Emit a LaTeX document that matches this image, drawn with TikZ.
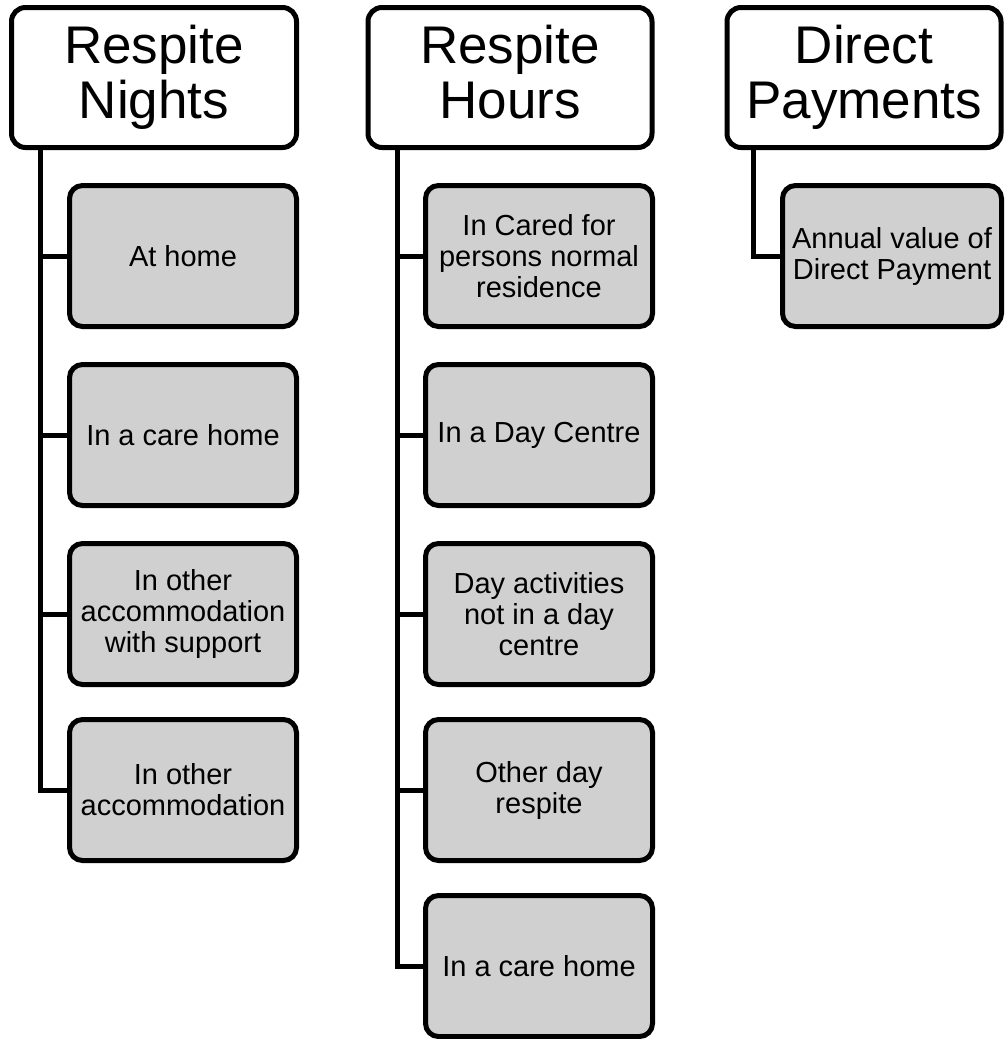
\documentclass[tikz,border=0pt]{standalone}
\usepackage{fontspec}
\setmainfont{Liberation Sans}
\definecolor{boxgrey}{RGB}{208,208,208}
\tikzset{
	topbox/.style = {draw, line width = 5pt, rounded corners = 14pt, fill = white,
		minimum height = 140pt, align = center,
		font = \fontsize{53}{55}\selectfont},
	subbox/.style = {draw, line width = 5pt, rounded corners = 13pt, fill = boxgrey,
		minimum height = 141pt, minimum width = 227pt, align = center,
		font = \fontsize{29}{31}\selectfont},
	link/.style = {line width = 5pt}
}

\begin{document}
\begin{tikzpicture}[x = 1pt, y = -1pt]
\useasboundingbox (0, 0) rectangle (1005, 1039);

\node[topbox, minimum width = 285pt] (nights) at (154, 77.5) 
{Respite\\Nights};
\node[topbox, minimum width = 284pt] (hours) at (510, 77.5) 
{Respite\\Hours\vphantom{g}};
\node[topbox, minimum width = 274pt] (direct) at (864, 77.5) 
{Direct\\Payments};

\node[subbox] (n1) at (183, 256) {At home};
\node[subbox] (n2) at (183, 435) {In a care home};
\node[subbox] (n3) at (183, 614) {In other\\accommodation\\with support};
\node[subbox] (n4) at (183, 790) {In other\\accommodation};

\node[subbox] (h1) at (539, 256) {In Cared for\\persons normal\\residence};
\node[subbox] (h2) at (539, 435) {In a Day Centre};
\node[subbox] (h3) at (539, 614) {Day activities\\not in a day\\centre};
\node[subbox] (h4) at (539, 790) {Other day\\respite};
\node[subbox] (h5) at (539, 966) {In a care home};

\node[subbox, minimum width = 219pt] (d1) at (892, 256) 
{Annual value of\\Direct Payment};

\coordinate (nspine) at (40, 0);
\coordinate (hspine) at (397, 0);
\coordinate (dspine) at (753, 0);

\draw[link] (nights.south -| nspine) |- (n4.west);
\foreach \n in {1, 2, 3} 
\draw[link] (n\n.west) -- (n\n.west -| nspine);

\draw[link] (hours.south -| hspine) |- (h5.west);
\foreach \n in {1, 2, 3, 4} 
\draw[link] (h\n.west) -- (h\n.west -| hspine);

\draw[link] (direct.south -| dspine) |- (d1.west);

\end{tikzpicture}
\end{document}
